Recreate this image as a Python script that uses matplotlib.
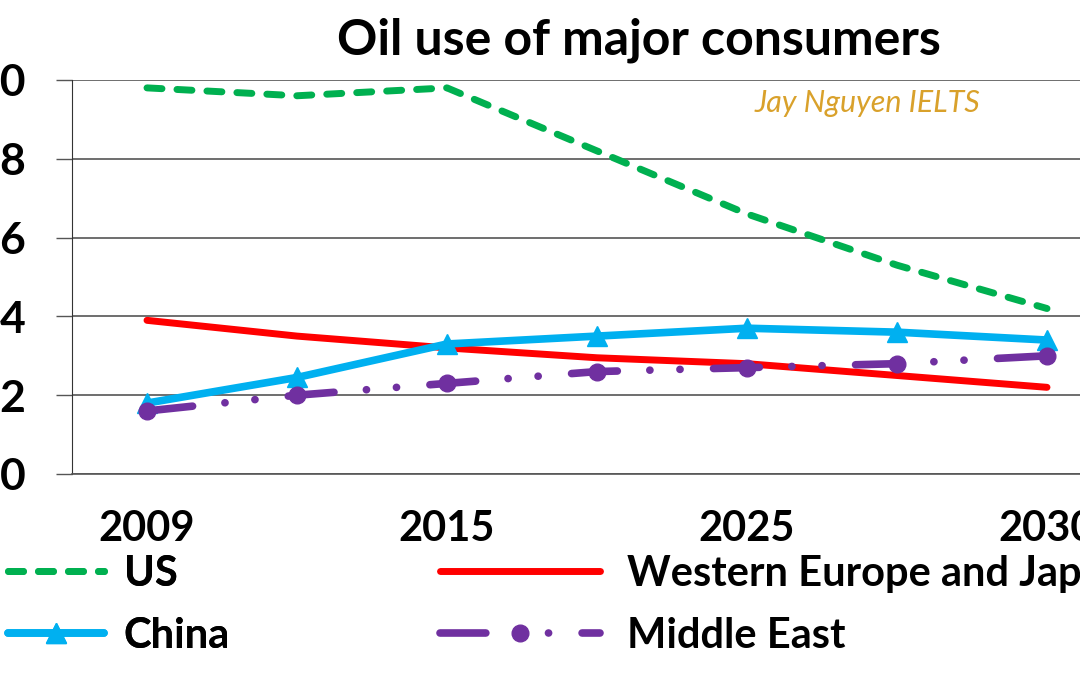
"""Oil use of major consumers - line chart recreation."""
import matplotlib
matplotlib.use('Agg')
import matplotlib.pyplot as plt

# ── data ──
years = ['2009', '2012', '2015', '2020', '2025', '2028', '2030']
us = [9.8, 9.6, 9.8, 8.2, 6.6, 5.3, 4.2]
we_japan = [3.9, 3.5, 3.2, 2.95, 2.8, 2.5, 2.2]
china = [1.8, 2.45, 3.3, 3.5, 3.7, 3.6, 3.4]
middle_east = [1.6, 2.0, 2.3, 2.6, 2.7, 2.8, 3.0]
y_ticks = [0, 2, 4, 6, 8, 10]

plt.rcParams['font.family'] = ['Lato', 'DejaVu Sans']
plt.rcParams['lines.scale_dashes'] = False

FS = 30
GRID = '#555555'

fig = plt.figure(figsize=(10.8, 6.75), dpi=100)
ax = fig.add_axes([72 / 1080, 1 - 474 / 675, 1050 / 1080, 394 / 675])

x = range(len(years))

l_us, = ax.plot(x, us, color='#00B050', lw=5, dash_capstyle='round',
                label='US')
l_us.set_dashes((10.8, 10.8))
l_we, = ax.plot(x, we_japan, color='#FF0000', lw=5,
                solid_capstyle='round', label='Western Europe and Japan')
l_cn, = ax.plot(x, china, color='#00B0F0', lw=5.5, marker='^', ms=15,
                solid_capstyle='round', label='China')
l_me, = ax.plot(x, middle_east, color='#7030A0', lw=5.5, marker='o', ms=12,
                dash_capstyle='round', label='Middle East')
l_me.set_dashes((33, 23.4, 0.1, 21.6, 0.1, 24.1))

ax.set_xlim(-0.5, len(years) - 0.5)
ax.set_ylim(0, 10)
ax.set_yticks(y_ticks)
ax.set_yticklabels([str(v) for v in y_ticks], fontsize=32, fontweight='bold')
ax.set_xticks(list(x))
ax.set_xticklabels([y if i % 2 == 0 else '' for i, y in enumerate(years)],
                   fontsize=FS, fontweight='bold')
ax.tick_params(axis='x', length=0, pad=26)
ax.tick_params(axis='y', length=11.5, width=1, pad=22, color=GRID)
ax.grid(axis='y', color=GRID, lw=1.2)
ax.set_axisbelow(True)
for s in ['top', 'right']:
    ax.spines[s].set_visible(False)
ax.spines['left'].set_color('#333333')
ax.spines['bottom'].set_color(GRID)
ax.spines['bottom'].set_linewidth(1.2)

# ── legends (two columns) ──
leg1 = fig.legend(handles=[l_us, l_cn], loc='center left',
                  bbox_to_anchor=(8 / 1080, 1 - 605 / 675),
                  frameon=False, borderpad=0, borderaxespad=0,
                  handlelength=2.3, handletextpad=0.48, labelspacing=0.58,
                  prop={'size': FS, 'weight': 'bold'})
fig.add_artist(leg1)
fig.legend(handles=[l_we, l_me], loc='center left',
           bbox_to_anchor=(440 / 1080, 1 - 605 / 675),
           frameon=False, borderpad=0, borderaxespad=0,
           handlelength=3.84, handletextpad=0.65, labelspacing=0.58,
           prop={'size': FS, 'weight': 'bold'})

fig.text(639 / 1080, 1 - 40 / 675, 'Oil use of major consumers',
         ha='center', va='center', fontsize=36, fontweight='bold')
fig.text(755 / 1080, 1 - 103 / 675, 'Jay Nguyen IELTS', ha='left',
         va='center', fontsize=22, style='italic', color='#D9A12B')

fig.savefig('out.png', dpi=100)
